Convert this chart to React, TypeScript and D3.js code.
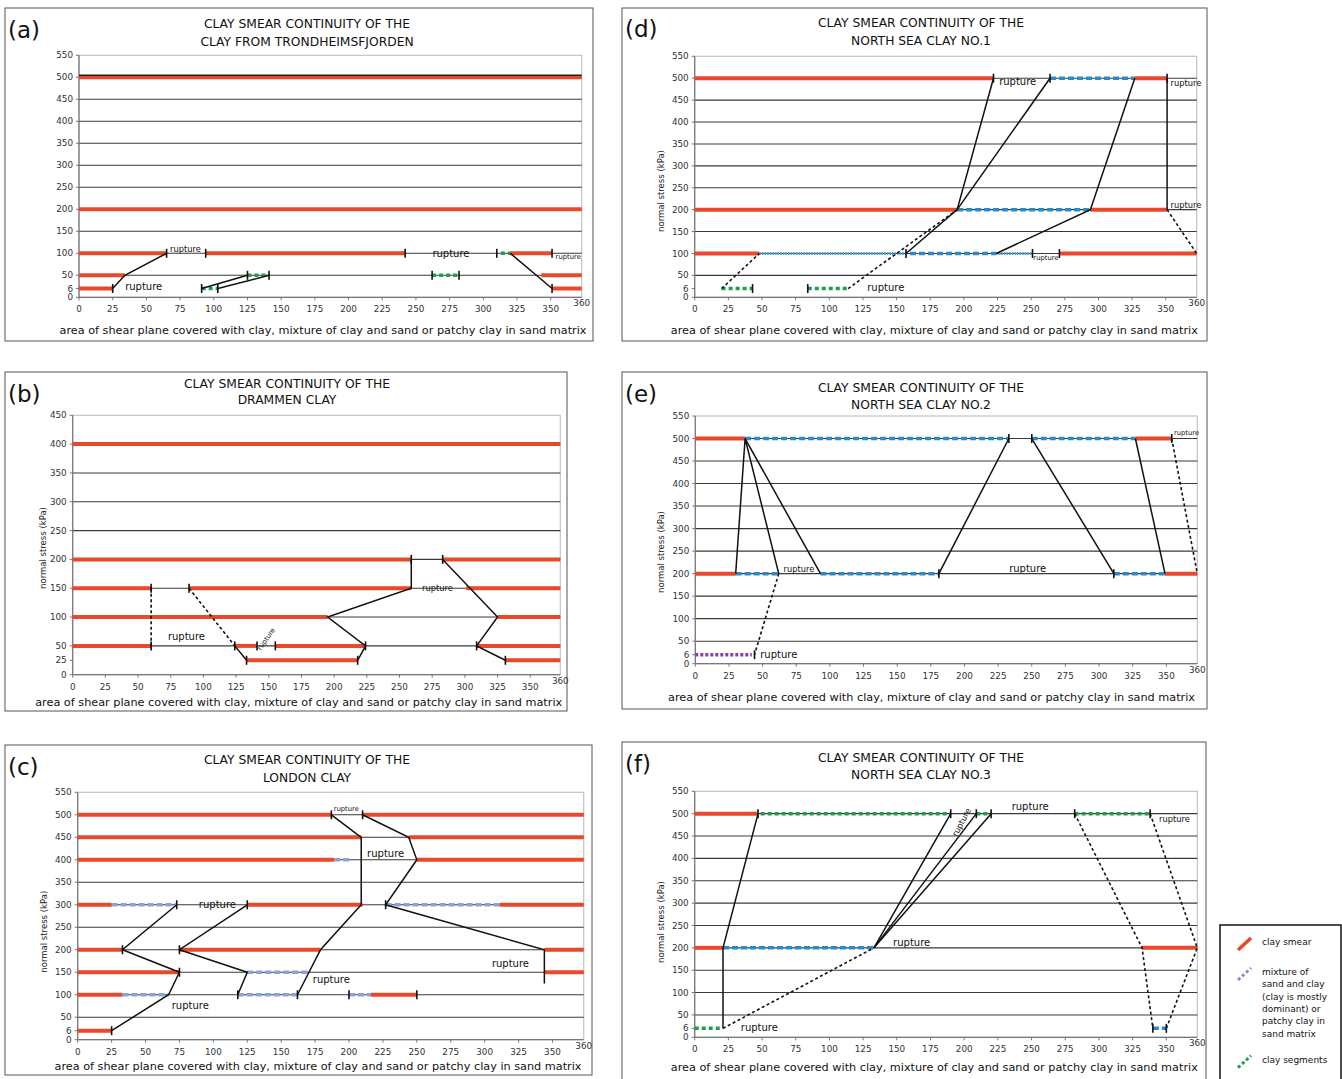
import React from 'react';
import * as d3 from 'd3';

type Seg = [number, number, number]; // level, from, to
type Pt = [number, number]; // x, level
type Lab = { x: number; y: number; k: 'big' | 'small' | 'tiny'; rot?: number };

const FONT = "'Comic Sans MS', 'DejaVu Sans', sans-serif";
const RED = '#e8492b';
const X_END = 373; // right edge of the plots, labelled "360"

const xTicks = [0, 25, 50, 75, 100, 125, 150, 175, 200, 225, 250, 275, 300, 325, 350];
const xEndLabel = '360';
const yTicks6 = [0, 6, 50, 100, 150, 200, 250, 300, 350, 400, 450, 500, 550];
const yTicksB = [0, 25, 50, 100, 150, 200, 250, 300, 350, 400, 450];
const xTitle = 'area of shear plane covered with clay, mixture of clay and sand or patchy clay in sand matrix';
const yTitle = 'normal stress  (kPa)';
const titleTop = 'CLAY SMEAR CONTINUITY OF THE';
const RUPTURE = 'rupture';

// (a) Trondheimsfjorden
const aClay: Seg[] = [[500, 0, X_END], [200, 0, X_END], [100, 0, 65], [100, 94, 242], [100, 320, 351], [50, 0, 34], [50, 343, X_END], [6, 0, 25], [6, 351, X_END]];
const aSeg: Seg[] = [[100, 313, 320], [50, 125, 141], [50, 262, 282], [6, 91, 103]];
const aTicks: Pt[] = [[65, 100], [94, 100], [242, 100], [310, 100], [351, 100], [125, 50], [141, 50], [262, 50], [282, 50], [25, 6], [91, 6], [103, 6], [351, 6]];
const aSolid: Pt[][] = [[[25, 6], [34, 50], [65, 100]], [[91, 6], [125, 50]], [[103, 6], [141, 50]], [[320, 100], [351, 6]]];
const aLabels: Lab[] = [{ x: 79, y: 110, k: 'small' }, { x: 276, y: 100, k: 'big' }, { x: 363, y: 93, k: 'tiny' }, { x: 48, y: 12, k: 'big' }];

// (b) Drammen
const bClay: Seg[] = [[400, 0, X_END], [200, 0, 259], [200, 283, X_END], [150, 0, 60], [150, 89, 259], [150, 301, X_END], [100, 0, 195], [100, 325, X_END], [50, 0, 60], [50, 124, 141], [50, 155, 224], [50, 309, X_END], [25, 133, 218], [25, 331, X_END]];
const bTicks: Pt[] = [[259, 200], [283, 200], [60, 150], [89, 150], [60, 50], [124, 50], [141, 50], [155, 50], [224, 50], [309, 50], [133, 25], [218, 25], [331, 25]];
const bSolid: Pt[][] = [[[124, 50], [133, 25]], [[259, 200], [259, 150], [195, 100], [224, 50], [218, 25]], [[283, 200], [325, 100], [309, 50], [331, 25]]];
const bDashed: Pt[][] = [[[60, 150], [60, 50]], [[89, 150], [124, 50]]];
const bLabels: Lab[] = [{ x: 87, y: 67, k: 'big' }, { x: 148, y: 62, k: 'tiny', rot: -55 }, { x: 279, y: 150, k: 'small' }];

// (c) London
const cClay: Seg[] = [[500, 0, 187], [500, 210, X_END], [450, 0, 209], [450, 244, X_END], [400, 0, 189], [400, 250, X_END], [300, 0, 25], [300, 125, 210], [300, 311, X_END], [200, 0, 33], [200, 75, 179], [200, 344, X_END], [150, 0, 75], [150, 344, X_END], [100, 0, 33], [100, 216, 250], [6, 0, 25]];
const cMix: Seg[] = [[400, 189, 202], [300, 25, 73], [300, 227, 311], [150, 125, 170], [100, 33, 67], [100, 118, 162], [100, 200, 216]];
const cTicks: Pt[] = [[187, 500], [210, 500], [73, 300], [125, 300], [227, 300], [33, 200], [75, 200], [75, 150], [118, 100], [162, 100], [200, 100], [250, 100], [25, 6]];
const cSolid: Pt[][] = [
  [[25, 6], [67, 100], [75, 150], [33, 200], [73, 300]],
  [[125, 300], [75, 200], [125, 150], [118, 100]],
  [[162, 100], [179, 200], [209, 300], [209, 450], [187, 500]],
  [[210, 500], [244, 450], [250, 400], [227, 300], [344, 200], [344, 125]],
];
const cLabels: Lab[] = [{ x: 198, y: 513, k: 'tiny' }, { x: 227, y: 414, k: 'big' }, { x: 103, y: 300, k: 'big' }, { x: 319, y: 170, k: 'big' }, { x: 187, y: 133, k: 'big' }, { x: 83, y: 76, k: 'big' }];

// (d) North Sea No.1
const dClay: Seg[] = [[500, 0, 222], [500, 327, 351], [200, 0, 195], [200, 294, 351], [100, 0, 48], [100, 271, X_END]];
const dMix: Seg[] = [[500, 264, 327], [200, 195, 294], [100, 160, 224]];
const dFine: Seg[] = [[100, 48, 157], [100, 224, 251]];
const dSeg: Seg[] = [[6, 20, 43], [6, 84, 114]];
const dTicks: Pt[] = [[222, 500], [264, 500], [351, 500], [157, 100], [251, 100], [271, 100], [43, 6], [84, 6]];
const dSolid: Pt[][] = [[[157, 100], [195, 200], [222, 500]], [[195, 200], [264, 500]], [[224, 100], [294, 200], [327, 500]], [[351, 500], [351, 200]]];
const dDashed: Pt[][] = [[[20, 6], [48, 100]], [[114, 6], [195, 200]], [[351, 200], [X_END, 100]]];
const dLabels: Lab[] = [{ x: 240, y: 492, k: 'big' }, { x: 365, y: 489, k: 'small' }, { x: 365, y: 210, k: 'small' }, { x: 261, y: 90, k: 'tiny' }, { x: 142, y: 8, k: 'big' }];

// (e) North Sea No.2
const eClay: Seg[] = [[500, 0, 37], [500, 327, 354], [200, 0, 30], [200, 349, X_END]];
const eMix: Seg[] = [[500, 37, 233], [500, 250, 327], [200, 30, 62], [200, 93, 181], [200, 311, 349]];
const ePurple: Seg[] = [[6, 0, 42]];
const eTicks: Pt[] = [[233, 500], [250, 500], [354, 500], [181, 200], [311, 200], [44, 6]];
const eSolid: Pt[][] = [[[30, 200], [37, 500], [62, 200]], [[37, 500], [93, 200]], [[181, 200], [233, 500]], [[250, 500], [311, 200]], [[327, 500], [349, 200]]];
const eDashed: Pt[][] = [[[62, 200], [44, 6]], [[354, 500], [X_END, 200]]];
const eLabels: Lab[] = [{ x: 365, y: 514, k: 'tiny' }, { x: 77, y: 210, k: 'small' }, { x: 247, y: 212, k: 'big' }, { x: 62, y: 8, k: 'big' }];

// (f) North Sea No.3
const fClay: Seg[] = [[500, 0, 47], [200, 0, 21], [200, 332, X_END]];
const fMix: Seg[] = [[200, 21, 133], [6, 340, 350]];
const fSeg: Seg[] = [[500, 49, 190], [500, 209, 220], [500, 282, 338], [6, 0, 21]];
const fTicks: Pt[] = [[47, 500], [190, 500], [209, 500], [220, 500], [282, 500], [338, 500], [340, 6], [350, 6]];
const fSolid: Pt[][] = [[[21, 200], [47, 500]], [[21, 200], [21, 6]], [[133, 200], [190, 500]], [[133, 200], [209, 500]], [[133, 200], [220, 500]]];
const fDashed: Pt[][] = [[[21, 6], [133, 200]], [[282, 500], [332, 200], [340, 6]], [[338, 500], [X_END, 200], [350, 6]]];
const fLabels: Lab[] = [{ x: 198, y: 481, k: 'small', rot: -62 }, { x: 249, y: 515, k: 'big' }, { x: 356, y: 487, k: 'small' }, { x: 161, y: 213, k: 'big' }, { x: 48, y: 8, k: 'big' }];

const legendLabels = [['clay smear'], ['mixture of', 'sand and clay', '(clay is mostly', 'dominant) or', 'patchy clay in', 'sand matrix'], ['clay segments']];

const panels = [
  { id: '(a)', name: 'CLAY FROM TRONDHEIMSFJORDEN', box: [5, 8, 593, 341], plot: [79, 581.7, 55.3, 297.3], tcx: 307, tb: [28, 46], lb: 38, yt: null, xcx: 323, xtb: 333.5, yTicks: yTicks6, clay: aClay, mix: [], fine: [], seg: aSeg, purple: [], ticks: aTicks, solid: aSolid, dashed: [], labels: aLabels, mixColor: '#2a8bcc', dark: [500] },
  { id: '(b)', name: 'DRAMMEN CLAY', box: [5, 372, 567, 711], plot: [72.7, 560.3, 415.3, 674.7], tcx: 287, tb: [388, 404], lb: 402, yt: [43, 548], xcx: 298.7, xtb: 706, yTicks: yTicksB, clay: bClay, mix: [], fine: [], seg: [], purple: [], ticks: bTicks, solid: bSolid, dashed: bDashed, labels: bLabels, mixColor: '#2a8bcc', dark: [] },
  { id: '(c)', name: 'LONDON CLAY', box: [5, 745, 592, 1075], plot: [77.7, 583.7, 792.3, 1039.7], tcx: 307, tb: [764, 782], lb: 775, yt: [44.3, 931.7], xcx: 318, xtb: 1069.5, yTicks: yTicks6, clay: cClay, mix: cMix, fine: [], seg: [], purple: [], ticks: cTicks, solid: cSolid, dashed: [], labels: cLabels, mixColor: '#8aa2dc', dark: [] },
  { id: '(d)', name: 'NORTH SEA CLAY NO.1', box: [622, 8, 1207, 341], plot: [694.7, 1196.7, 56.3, 297.3], tcx: 921, tb: [27, 45], lb: 37, yt: [661.3, 191], xcx: 934.3, xtb: 333.5, yTicks: yTicks6, clay: dClay, mix: dMix, fine: dFine, seg: dSeg, purple: [], ticks: dTicks, solid: dSolid, dashed: dDashed, labels: dLabels, mixColor: '#2a8bcc', dark: [] },
  { id: '(e)', name: 'NORTH SEA CLAY NO.2', box: [622, 372, 1207, 709], plot: [695.3, 1197.3, 416, 663.7], tcx: 921, tb: [392, 409], lb: 402, yt: [661.3, 552], xcx: 931.5, xtb: 701, yTicks: yTicks6, clay: eClay, mix: eMix, fine: [], seg: [], purple: ePurple, ticks: eTicks, solid: eSolid, dashed: eDashed, labels: eLabels, mixColor: '#2a8bcc', dark: [] },
  { id: '(f)', name: 'NORTH SEA CLAY NO.3', box: [622, 742, 1206, 1090], plot: [694.7, 1197.3, 791.3, 1037.3], tcx: 921, tb: [762, 779], lb: 772, yt: [661.3, 922], xcx: 934.3, xtb: 1071, yTicks: yTicks6, clay: fClay, mix: fMix, fine: [], seg: fSeg, purple: [], ticks: fTicks, solid: fSolid, dashed: fDashed, labels: fLabels, mixColor: '#2a8bcc', dark: [] },
];

const labSize = { big: 10, small: 8.3, tiny: 6.8 };

const Panel = ({ p }: { p: any }) => {
  const [px0, px1, py0, py1] = p.plot;
  const yMax = p.yTicks[p.yTicks.length - 1];
  const H = py1 - py0;
  const x = d3.scaleLinear().domain([0, X_END]).range([px0, px1]);
  // the "6" level is drawn a little above zero, as in the original sheets
  const y = p.yTicks.includes(6)
    ? d3.scaleLinear().domain([0, 6, 50, yMax]).range([py1, py1 - (H * 20) / yMax, py1 - (H * 50) / yMax, py0])
    : d3.scaleLinear().domain([0, yMax]).range([py1, py0]);
  const line = d3.line<Pt>().x((d) => x(d[0])).y((d) => y(d[1]));
  const grid = p.yTicks.filter((v: number) => v >= 50 && v < yMax);
  const segs = (arr: Seg[], key: string, style: any) =>
    arr.map((s, i) => <line key={key + i} x1={x(s[1])} x2={x(s[2])} y1={y(s[0])} y2={y(s[0])} {...style} />);
  const [bx0, by0, bx1, by1] = p.box;

  return (
    <g fontFamily={FONT}>
      <rect x={bx0} y={by0} width={bx1 - bx0} height={by1 - by0} fill="#fff" stroke="#555" strokeWidth={1} />
      <text x={bx0 + 3} y={p.lb} fontSize={23} fill="#111">{p.id}</text>
      <text x={p.tcx} y={p.tb[0]} fontSize={12.3} textAnchor="middle" fill="#111">{titleTop}</text>
      <text x={p.tcx} y={p.tb[1]} fontSize={12.3} textAnchor="middle" fill="#111">{p.name}</text>

      <rect x={px0} y={py0} width={px1 - px0} height={H} fill="#fff" stroke="#c4c4c4" strokeWidth={1.2} />
      {grid.map((v: number) => (
        <line key={'g' + v} x1={px0} x2={px1} y1={y(v)} y2={y(v)} stroke="#3a3a3a" strokeWidth={1.1} />
      ))}
      <line x1={px0} x2={px0} y1={py0} y2={py1} stroke="#777" strokeWidth={1.2} />
      <line x1={px0} x2={px1} y1={py1} y2={py1} stroke="#777" strokeWidth={1.2} />
      {p.yTicks.map((v: number) => (
        <g key={'yt' + v}>
          <line x1={px0 - 3} x2={px0} y1={y(v)} y2={y(v)} stroke="#777" />
          <text x={px0 - 6} y={y(v)} dy="0.35em" fontSize={8.8} textAnchor="end" fill="#333">{v}</text>
        </g>
      ))}
      {xTicks.map((v) => (
        <g key={'xt' + v}>
          <line x1={x(v)} x2={x(v)} y1={py1} y2={py1 + 3} stroke="#777" />
          <text x={x(v)} y={py1 + 15} fontSize={8.8} textAnchor="middle" fill="#333">{v}</text>
        </g>
      ))}
      <text x={x(X_END)} y={py1 + 9} fontSize={8.8} textAnchor="middle" fill="#333">{xEndLabel}</text>

      {segs(p.clay, 'c', { stroke: RED, strokeWidth: 4 })}
      {p.dark.map((v: number) => (
        <line key={'dk' + v} x1={px0} x2={px1} y1={y(v) - 2} y2={y(v) - 2} stroke="#2a1a14" strokeWidth={1.4} />
      ))}
      {segs(p.mix, 'm', { stroke: p.mixColor, strokeWidth: 3.5, strokeDasharray: '6 3' })}
      {segs(p.fine, 'fi', { stroke: '#4ea5dd', strokeWidth: 3, strokeDasharray: '1.6 1' })}
      {segs(p.seg, 's', { stroke: '#1f9e4c', strokeWidth: 3.5, strokeDasharray: '4 3' })}
      {segs(p.purple, 'p', { stroke: '#8a3fae', strokeWidth: 3.5, strokeDasharray: '3 2' })}

      {p.solid.map((pts: Pt[], i: number) => (
        <path key={'sl' + i} d={line(pts) || ''} fill="none" stroke="#111" strokeWidth={1.5} />
      ))}
      {p.dashed.map((pts: Pt[], i: number) => (
        <path key={'dl' + i} d={line(pts) || ''} fill="none" stroke="#111" strokeWidth={1.6} strokeDasharray="3 2.5" />
      ))}
      {p.ticks.map((t: Pt, i: number) => (
        <line key={'tk' + i} x1={x(t[0])} x2={x(t[0])} y1={y(t[1]) - 4.5} y2={y(t[1]) + 4.5} stroke="#111" strokeWidth={1.6} />
      ))}
      {p.labels.map((l: Lab, i: number) => (
        <text
          key={'lb' + i}
          x={x(l.x)}
          y={y(l.y)}
          dy="0.35em"
          fontSize={labSize[l.k]}
          textAnchor="middle"
          fill="#111"
          transform={l.rot ? `rotate(${l.rot} ${x(l.x)} ${y(l.y)})` : undefined}
        >
          {RUPTURE}
        </text>
      ))}

      {p.yt && (
        <text
          x={p.yt[0]}
          y={p.yt[1]}
          dy="0.35em"
          fontSize={8.5}
          textAnchor="middle"
          fill="#222"
          transform={`rotate(-90 ${p.yt[0]} ${p.yt[1]})`}
        >
          {yTitle}
        </text>
      )}
      <text x={p.xcx} y={p.xtb} fontSize={11} textAnchor="middle" fill="#111" textLength={527} lengthAdjust="spacingAndGlyphs">
        {xTitle}
      </text>
    </g>
  );
};

const Legend = () => {
  const rows = [942, 972, 1059.7];
  const icons = [
    { c: RED, w: 3.5, dash: undefined },
    { c: '#7b8fd8', w: 3, dash: '3 2.5' },
    { c: '#1f9e4c', w: 3, dash: '3 2.5' },
  ];
  return (
    <g fontFamily={FONT}>
      <rect x={1220} y={925} width={121} height={170} fill="#fff" stroke="#111" strokeWidth={1.5} />
      {legendLabels.map((lines, i) => (
        <g key={i}>
          <line x1={1238} y1={rows[i] + 8} x2={1251} y2={rows[i] - 4} stroke={icons[i].c} strokeWidth={icons[i].w} strokeDasharray={icons[i].dash} />
          {lines.map((t, j) => (
            <text key={j} x={1262} y={rows[i] + j * 12.3} dy="0.35em" fontSize={9} fill="#111">{t}</text>
          ))}
        </g>
      ))}
    </g>
  );
};

export default function App() {
  return (
    <svg width={1342} height={1079} style={{ position: 'absolute', left: 0, top: 0, background: '#fff' }}>
      <rect width={1342} height={1079} fill="#fff" />
      {panels.map((p) => (
        <Panel key={p.id} p={p} />
      ))}
      <Legend />
    </svg>
  );
}
